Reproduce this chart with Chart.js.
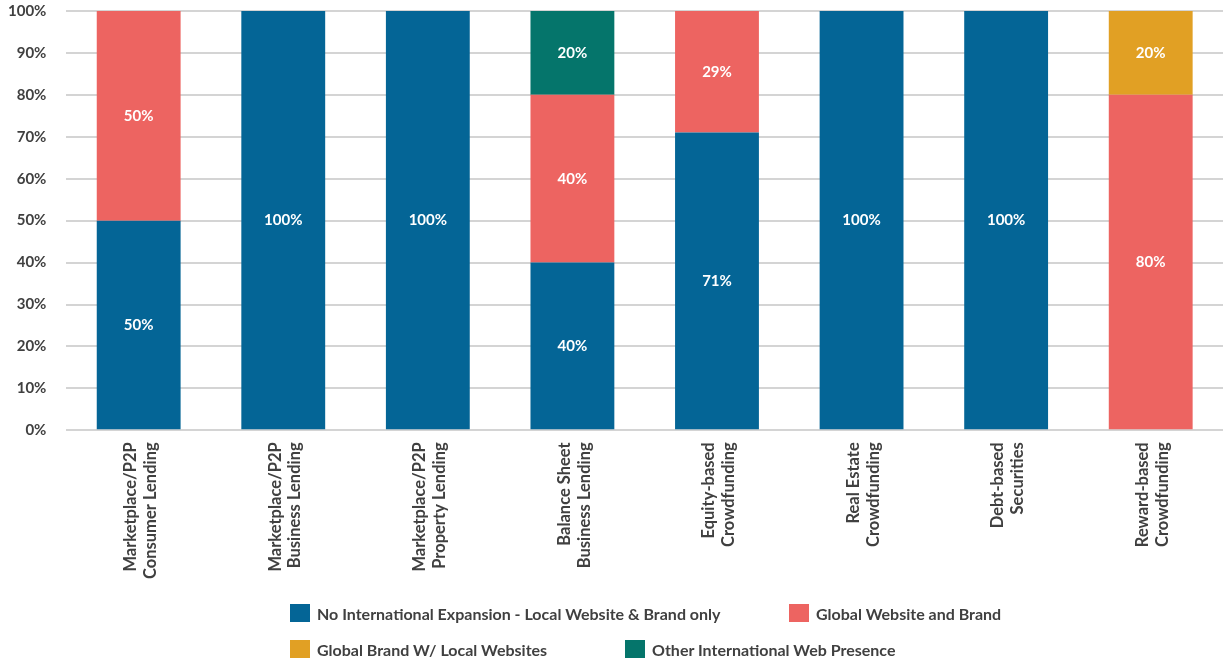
<!DOCTYPE html>
<html>
<head>
    <style>
        body {
            margin: 0;
            padding: 0;
            background: #fff;
        }

        .container {
            position: relative;
            width: 1229px;
            height: 663px;
            overflow: hidden;
        }

        #chart {
            position: absolute;
            left: -12px;
            top: -18px;
        }

        .legend {
            position: absolute;
            left: 290px;
            top: 601px;
            width: 900px;
            font-family: Lato, sans-serif;
            font-weight: bold;
            font-size: 16px;
            color: #404040;
            white-space: nowrap;
        }

        .legend .row {
            position: relative;
            height: 36px;
        }

        .legend .item {
            position: absolute;
            top: 0;
            display: flex;
            align-items: center;
            height: 24px;
        }

        .legend .box {
            width: 20px;
            height: 18px;
            margin-right: 7px;
            flex: none;
        }
    </style>
    <title>International Web Presence by Model</title>
    <script src="https://cdn.jsdelivr.net/npm/chart.js@4.4.0/dist/chart.umd.min.js"></script>
</head>
<body>
    <div class="container">
        <canvas id="chart" width="1241" height="663"></canvas>
        <div class="legend" id="legend"></div>
    </div>

  <script>
    const categories = [
      ['Marketplace/P2P', 'Consumer Lending'],
      ['Marketplace/P2P', 'Business Lending'],
      ['Marketplace/P2P', 'Property Lending'],
      ['Balance Sheet', 'Business Lending'],
      ['Equity-based', 'Crowdfunding'],
      ['Real Estate', 'Crowdfunding'],
      ['Debt-based', 'Securities'],
      ['Reward-based', 'Crowdfunding']
    ];
    const noInternational = [50, 100, 100, 40, 71, 100, 100, 0];
    const globalWebsite = [50, 0, 0, 40, 29, 0, 0, 80];
    const globalBrandLocal = [0, 0, 0, 0, 0, 0, 0, 20];
    const otherPresence = [0, 0, 0, 20, 0, 0, 0, 0];
    const yTicks = [0, 10, 20, 30, 40, 50, 60, 70, 80, 90, 100];

    const series = [
      { label: 'No International Expansion - Local Website & Brand only', data: noInternational, color: '#046596' },
      { label: 'Global Website and Brand', data: globalWebsite, color: '#ED6461' },
      { label: 'Global Brand W/ Local Websites', data: globalBrandLocal, color: '#E1A024' },
      { label: 'Other International Web Presence', data: otherPresence, color: '#05756B' }
    ];

    // legend is laid out by hand: two rows starting at the same left edge
    const legendRows = [
      [{ i: 0, x: 0 }, { i: 1, x: 499 }],
      [{ i: 2, x: 0 }, { i: 3, x: 335 }]
    ];
    const legendEl = document.getElementById('legend');
    legendRows.forEach(function(row) {
      const rowEl = document.createElement('div');
      rowEl.className = 'row';
      row.forEach(function(it) {
        const s = series[it.i];
        const item = document.createElement('div');
        item.className = 'item';
        item.style.left = it.x + 'px';
        const box = document.createElement('span');
        box.className = 'box';
        box.style.background = s.color;
        const txt = document.createElement('span');
        txt.textContent = s.label;
        item.appendChild(box);
        item.appendChild(txt);
        rowEl.appendChild(item);
      });
      legendEl.appendChild(rowEl);
    });

    // white value labels in the middle of each segment
    const barLabels = {
      id: 'barLabels',
      afterDatasetsDraw(chart) {
        const ctx = chart.ctx;
        ctx.save();
        ctx.fillStyle = '#ffffff';
        ctx.font = 'bold 15px Lato';
        ctx.textAlign = 'center';
        ctx.textBaseline = 'middle';
        chart.data.datasets.forEach(function(ds, di) {
          const meta = chart.getDatasetMeta(di);
          meta.data.forEach(function(bar, j) {
            const v = ds.data[j];
            if (!v) return;
            ctx.fillText(v + '%', bar.x, (bar.y + bar.base) / 2);
          });
        });
        ctx.restore();
      }
    };

    const ctx = document.getElementById('chart').getContext('2d');
    new Chart(ctx, {
      type: 'bar',
      data: {
        labels: categories,
        datasets: series.map(function(s) {
          return {
            label: s.label,
            data: s.data,
            backgroundColor: s.color,
            categoryPercentage: 1,
            barPercentage: 0.58
          };
        })
      },
      options: {
        responsive: false,
        animation: false,
        layout: {
          padding: { left: 0, right: 6, top: 0, bottom: 62 }
        },
        plugins: {
          legend: { display: false },
          tooltip: { enabled: false }
        },
        scales: {
          x: {
            stacked: true,
            grid: { display: false },
            border: { display: false },
            ticks: {
              minRotation: 90,
              maxRotation: 90,
              autoSkip: false,
              padding: 4,
              labelOffset: -8,
              color: '#404040',
              font: { family: 'Lato', weight: 'bold', size: 16.5, lineHeight: 1.2 }
            }
          },
          y: {
            stacked: true,
            min: 0,
            max: 100,
            afterBuildTicks: function(axis) {
              axis.ticks = yTicks.map(function(v) { return { value: v }; });
            },
            grid: { color: '#d4d4d4', lineWidth: 2, drawTicks: false },
            border: { display: false },
            ticks: {
              padding: 20,
              color: '#404040',
              font: { family: 'Lato', weight: 'bold', size: 15 },
              callback: function(v) { return v + '%'; }
            }
          }
        }
      },
      plugins: [barLabels]
    });
  </script>
</body>
</html>
